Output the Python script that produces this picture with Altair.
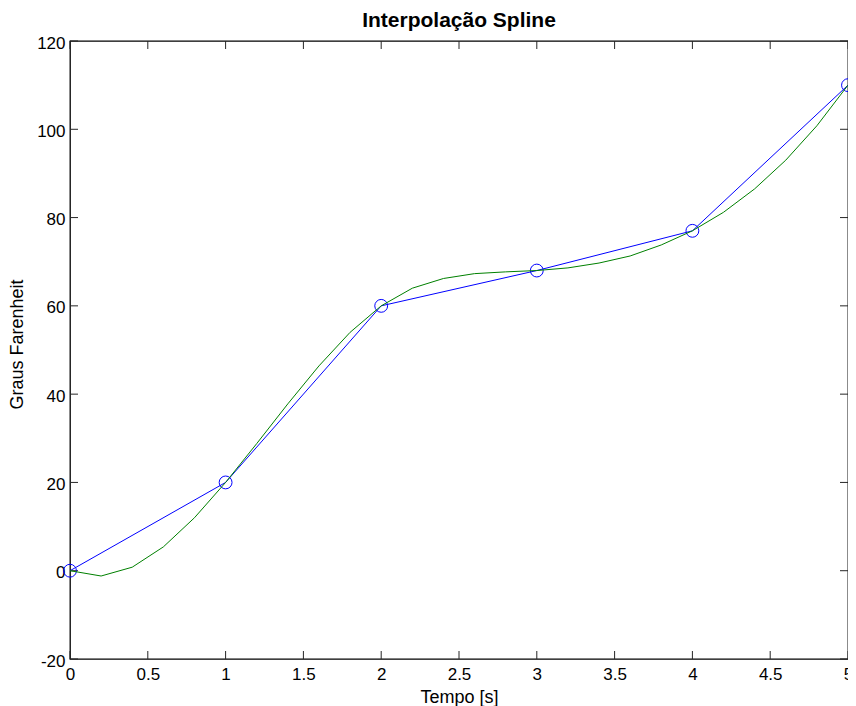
import altair as alt
import pandas as pd

# Data points (blue circles + linear segments)
knot_t = [0, 1, 2, 3, 4, 5]
knot_f = [0, 20, 60, 68, 77, 110]

# Spline curve sampled every 0.2 s (green)
spline_t = [0, 0.2, 0.4, 0.6, 0.8, 1.0, 1.2, 1.4, 1.6, 1.8, 2.0, 2.2, 2.4, 2.6,
            2.8, 3.0, 3.2, 3.4, 3.6, 3.8, 4.0, 4.2, 4.4, 4.6, 4.8, 5.0]
spline_f = [0, -1.2, 0.8, 5.4, 12.0, 20, 28.8, 37.8, 46.4, 54.0, 60, 64.0, 66.2,
            67.3, 67.7, 68, 68.6, 69.7, 71.3, 73.8, 77, 81.2, 86.5, 93.0, 100.8, 110]

x_ticks = [0, 0.5, 1, 1.5, 2, 2.5, 3, 3.5, 4, 4.5, 5]
y_ticks = [-20, 0, 20, 40, 60, 80, 100, 120]

title_text = ["Interpolação Spline"]

W, H = 778, 618
FONT = "Liberation Sans"

knots = pd.DataFrame({"t": knot_t, "f": knot_f})
spline = pd.DataFrame({"t": spline_t, "f": spline_f})
xt = pd.DataFrame({"t": x_ticks})
yt = pd.DataFrame({"f": y_ticks})
titles = pd.DataFrame({"label": title_text})

x_scale = alt.Scale(domain=[0, 5], nice=False, zero=False)
y_scale = alt.Scale(domain=[-20, 120], nice=False, zero=False)

x_axis = alt.Axis(values=x_ticks, labelExpr="datum.value + ''", ticks=False, tickSize=0,
                  domain=False, grid=False, labelPadding=7, labelFontSize=17,
                  labelFont=FONT, labelColor="black", title="Tempo [s]",
                  titleFont=FONT, titleFontSize=18, titleFontWeight="normal",
                  titleColor="black", titleBaseline="alphabetic", titleY=43, titleX=W / 2,
                  labelFlush=False, labelOverlap=False)
y_axis = alt.Axis(values=y_ticks, labelExpr="datum.value + ''", ticks=False, tickSize=0,
                  domain=False, grid=False, labelPadding=5, labelFontSize=17,
                  labelFont=FONT, labelColor="black", labelOffset=2, title="Graus Farenheit",
                  titleFont=FONT, titleFontSize=18, titleFontWeight="normal",
                  titleColor="black", titleBaseline="bottom", titleAngle=270,
                  titleX=-44, titleY=303, labelFlush=False, labelOverlap=False)


def X(field="t"):
    return alt.X(f"{field}:Q", scale=x_scale, axis=x_axis)


def Y(field="f"):
    return alt.Y(f"{field}:Q", scale=y_scale, axis=y_axis)


blue_line = alt.Chart(knots).mark_line(color="#0000ff", strokeWidth=1).encode(x=X(), y=Y())
circles = alt.Chart(knots).mark_point(shape="circle", filled=False, color="#0000ff",
                                      size=165, strokeWidth=1, opacity=1).encode(x=X(), y=Y())
green_line = alt.Chart(spline).mark_line(color="#008000", strokeWidth=1).encode(x=X(), y=Y())

tick_color = "#262626"
bottom_ticks = alt.Chart(xt).mark_rule(color=tick_color, strokeWidth=1).encode(
    x=X(), y=alt.value(H), y2=alt.value(H - 8))
top_ticks = alt.Chart(xt).mark_rule(color=tick_color, strokeWidth=1).encode(
    x=X(), y=alt.value(0), y2=alt.value(8))
left_ticks = alt.Chart(yt).mark_rule(color=tick_color, strokeWidth=1).encode(
    y=Y(), x=alt.value(0), x2=alt.value(8))
right_ticks = alt.Chart(yt).mark_rule(color=tick_color, strokeWidth=1).encode(
    y=Y(), x=alt.value(W), x2=alt.value(W - 8))

title_mark = alt.Chart(titles).mark_text(
    font=FONT, fontSize=21, fontWeight="bold", color="black",
    align="center", baseline="alphabetic"
).encode(text="label:N", x=alt.value(W / 2), y=alt.value(-14))

chart = alt.layer(
    bottom_ticks, top_ticks, left_ticks, right_ticks, blue_line, circles, green_line,
    title_mark
).properties(
    width=W, height=H,
    autosize=alt.AutoSizeParams(type="none"),
    padding={"left": 62, "top": 33, "right": 0, "bottom": 47},
).configure(
    background="white"
).configure_view(
    stroke="black", strokeWidth=1.3
)

chart.save("out.html", embed_options={"renderer": "svg", "actions": False})
